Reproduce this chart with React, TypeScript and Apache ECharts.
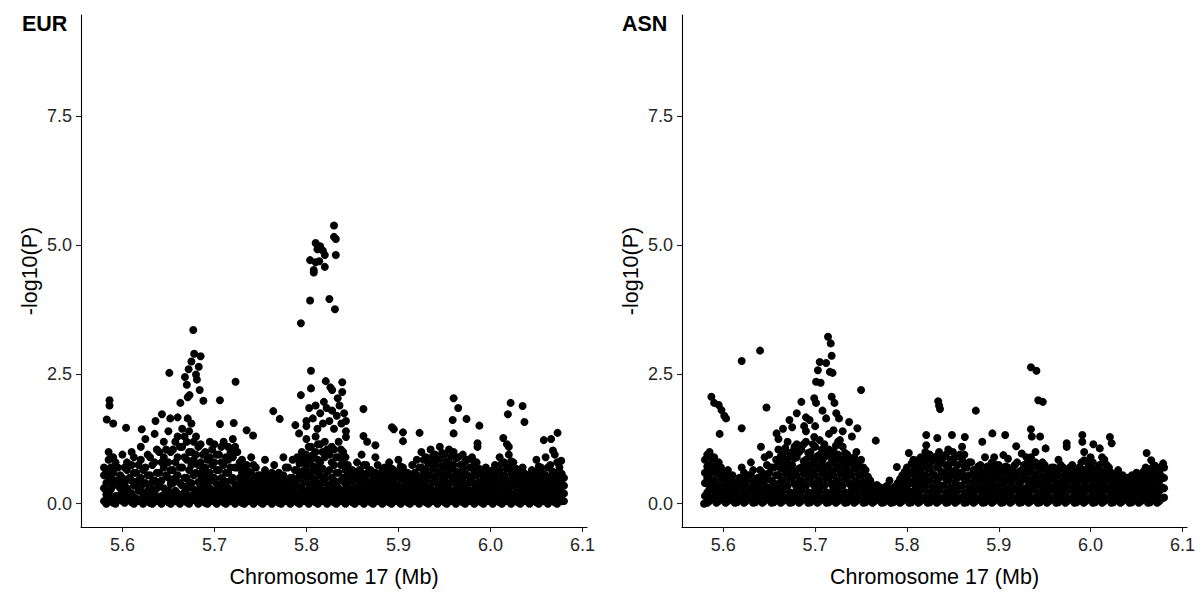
import React, { useEffect, useRef } from "react";
import * as echarts from "echarts";

// Panel labels and axis text
const panelLabels = ["EUR", "ASN"];
const xTitle = "Chromosome 17 (Mb)";
const yTitle = "-log10(P)";
const xTicks = [5.6, 5.7, 5.8, 5.9, 6.0, 6.1];
const yTicks = [0, 2.5, 5.0, 7.5];
const xRange = [5.555, 6.105];
const yRange = [-0.45, 9.45];

// EUR: dense band, each row = [position (Mb), -log10(P) values...]
const eurBand: number[][] = [
  [5.580, 0.05, 0.3, 0.55, 0.7],
  [5.585, 0.1, 0.2, 0.45, 0.85, 1.0],
  [5.590, 0.02, 0.35, 0.6, 0.9],
  [5.595, 0.15, 0.4, 0.7],
  [5.600, 0.05, 0.25, 0.5, 0.95],
  [5.605, 0.1, 0.3, 0.65, 0.8],
  [5.610, 0.03, 0.2, 0.45, 0.75, 1.0],
  [5.615, 0.1, 0.35, 0.6],
  [5.620, 0.05, 0.25, 0.5, 0.85, 1.1],
  [5.625, 0.15, 0.4, 0.7, 1.25],
  [5.630, 0.02, 0.3, 0.55, 0.9],
  [5.635, 0.1, 0.2, 0.45, 0.8, 1.35],
  [5.640, 0.05, 0.35, 0.6, 1.0],
  [5.645, 0.15, 0.3, 0.7, 0.9, 1.2],
  [5.650, 0.03, 0.25, 0.5, 0.8, 1.4],
  [5.655, 0.1, 0.4, 0.65, 1.05],
  [5.660, 0.05, 0.2, 0.55, 0.9, 1.3],
  [5.665, 0.12, 0.35, 0.7, 1.1, 1.45],
  [5.670, 0.03, 0.28, 0.5, 0.85, 1.2],
  [5.675, 0.15, 0.4, 0.75, 1.0, 1.55],
  [5.680, 0.05, 0.25, 0.6, 0.95, 1.3],
  [5.685, 0.1, 0.35, 0.55, 0.8, 1.15],
  [5.690, 0.02, 0.2, 0.45, 0.7, 1.0],
  [5.695, 0.12, 0.3, 0.6, 0.9, 1.2],
  [5.700, 0.05, 0.25, 0.5, 0.8, 1.15],
  [5.705, 0.1, 0.35, 0.65, 0.95],
  [5.710, 0.03, 0.2, 0.45, 0.75, 1.2],
  [5.715, 0.15, 0.3, 0.6, 0.85, 1.1],
  [5.720, 0.05, 0.25, 0.5, 0.9, 1.25],
  [5.725, 0.1, 0.35, 0.7, 1.0],
  [5.730, 0.02, 0.2, 0.4, 0.6, 0.85],
  [5.735, 0.1, 0.3, 0.5, 0.75],
  [5.740, 0.05, 0.2, 0.35, 0.6, 0.9],
  [5.745, 0.12, 0.28, 0.45, 0.7],
  [5.750, 0.03, 0.18, 0.35, 0.55],
  [5.755, 0.1, 0.25, 0.4, 0.65, 0.85],
  [5.760, 0.05, 0.2, 0.35, 0.5],
  [5.765, 0.12, 0.3, 0.45, 0.75],
  [5.770, 0.02, 0.18, 0.35, 0.6],
  [5.775, 0.1, 0.25, 0.4, 0.55, 0.9],
  [5.780, 0.05, 0.2, 0.38, 0.7],
  [5.785, 0.12, 0.3, 0.5, 0.85],
  [5.790, 0.03, 0.2, 0.45, 0.65, 0.9],
  [5.795, 0.1, 0.3, 0.55, 0.8, 1.0],
  [5.800, 0.05, 0.25, 0.5, 0.75, 0.95, 1.25],
  [5.805, 0.12, 0.35, 0.6, 0.85, 1.1],
  [5.810, 0.03, 0.2, 0.45, 0.7, 1.0, 1.3],
  [5.815, 0.1, 0.3, 0.55, 0.8, 1.15],
  [5.820, 0.05, 0.25, 0.5, 0.9, 1.2],
  [5.825, 0.12, 0.35, 0.65, 0.95],
  [5.830, 0.03, 0.2, 0.45, 0.75, 1.05],
  [5.835, 0.1, 0.3, 0.6, 0.9, 1.2],
  [5.840, 0.05, 0.25, 0.5, 0.8, 1.0],
  [5.845, 0.12, 0.35, 0.55, 0.75],
  [5.850, 0.03, 0.2, 0.45, 0.65],
  [5.855, 0.1, 0.3, 0.5, 0.8],
  [5.860, 0.05, 0.2, 0.4, 0.6, 0.95],
  [5.865, 0.12, 0.3, 0.55, 0.75],
  [5.870, 0.03, 0.2, 0.4, 0.65],
  [5.875, 0.1, 0.25, 0.45, 0.6, 0.9],
  [5.880, 0.05, 0.2, 0.35, 0.55],
  [5.885, 0.12, 0.3, 0.5, 0.7],
  [5.890, 0.03, 0.18, 0.35, 0.55, 0.8],
  [5.895, 0.1, 0.25, 0.45, 0.65],
  [5.900, 0.05, 0.2, 0.35, 0.6, 0.85],
  [5.905, 0.12, 0.3, 0.5, 0.7],
  [5.910, 0.03, 0.2, 0.4, 0.6],
  [5.915, 0.1, 0.25, 0.45, 0.75],
  [5.920, 0.05, 0.2, 0.35, 0.55, 0.85],
  [5.925, 0.12, 0.3, 0.5, 0.7, 1.0],
  [5.930, 0.03, 0.2, 0.45, 0.65, 0.9],
  [5.935, 0.1, 0.3, 0.55, 0.8, 1.05],
  [5.940, 0.05, 0.25, 0.5, 0.75, 0.95],
  [5.945, 0.12, 0.35, 0.6, 0.85, 1.1],
  [5.950, 0.03, 0.2, 0.45, 0.7, 0.95],
  [5.955, 0.1, 0.3, 0.55, 0.8, 1.05],
  [5.960, 0.05, 0.25, 0.5, 0.75, 1.0],
  [5.965, 0.12, 0.35, 0.6, 0.9],
  [5.970, 0.03, 0.2, 0.45, 0.7, 0.95],
  [5.975, 0.1, 0.3, 0.55, 0.85],
  [5.980, 0.05, 0.25, 0.5, 0.7, 0.9],
  [5.985, 0.12, 0.3, 0.55, 0.8],
  [5.990, 0.03, 0.2, 0.4, 0.6],
  [5.995, 0.1, 0.25, 0.45, 0.7],
  [6.000, 0.05, 0.2, 0.4, 0.55],
  [6.005, 0.12, 0.3, 0.5, 0.75],
  [6.010, 0.03, 0.2, 0.4, 0.65, 0.9],
  [6.015, 0.1, 0.3, 0.55, 0.8],
  [6.020, 0.05, 0.25, 0.45, 0.7, 0.95],
  [6.025, 0.12, 0.35, 0.55, 0.8],
  [6.030, 0.03, 0.2, 0.4, 0.6],
  [6.035, 0.1, 0.25, 0.45, 0.7],
  [6.040, 0.05, 0.2, 0.35, 0.55],
  [6.045, 0.12, 0.3, 0.5, 0.65],
  [6.050, 0.03, 0.2, 0.4, 0.6, 0.85],
  [6.055, 0.1, 0.25, 0.45, 0.7],
  [6.060, 0.05, 0.2, 0.35, 0.55, 0.9],
  [6.065, 0.12, 0.3, 0.5, 0.75],
  [6.070, 0.03, 0.2, 0.4, 0.6, 0.95],
  [6.075, 0.1, 0.25, 0.45, 0.7],
  [6.080, 0.05, 0.2, 0.35, 0.5],
];

// EUR: in-between SNPs filling the band
const eurFill: number[][] = [
  [5.5825, 0.0, 0.18, 0.4, 0.6],
  [5.5875, 0.08, 0.28, 0.5, 0.7],
  [5.5925, 0.0, 0.15, 0.45, 0.8],
  [5.5975, 0.08, 0.3, 0.55],
  [5.6025, 0.02, 0.15, 0.4, 0.7],
  [5.6075, 0.08, 0.22, 0.5],
  [5.6125, 0.0, 0.12, 0.35, 0.6, 0.9],
  [5.6175, 0.05, 0.25, 0.45, 0.75],
  [5.6225, 0.0, 0.15, 0.38, 0.65],
  [5.6275, 0.08, 0.25, 0.55, 0.95],
  [5.6325, 0.0, 0.15, 0.42, 0.75],
  [5.6375, 0.05, 0.3, 0.6, 1.05],
  [5.6425, 0.0, 0.15, 0.45, 0.8],
  [5.6475, 0.08, 0.22, 0.55, 1.05],
  [5.6525, 0.0, 0.15, 0.38, 0.65, 1.0],
  [5.6575, 0.05, 0.25, 0.5, 0.8, 1.2],
  [5.6625, 0.0, 0.12, 0.4, 0.7, 1.1],
  [5.6675, 0.05, 0.22, 0.5, 0.9, 1.3],
  [5.6725, 0.0, 0.15, 0.4, 0.65, 1.0, 1.4],
  [5.6775, 0.08, 0.28, 0.55, 0.85, 1.2],
  [5.6825, 0.0, 0.15, 0.42, 0.75, 1.1],
  [5.6875, 0.05, 0.25, 0.45, 0.65, 0.95],
  [5.6925, 0.0, 0.12, 0.35, 0.55, 0.85],
  [5.6975, 0.05, 0.22, 0.45, 0.75, 1.05],
  [5.7025, 0.0, 0.15, 0.38, 0.65, 0.95],
  [5.7075, 0.05, 0.25, 0.5, 0.8, 1.1],
  [5.7125, 0.0, 0.12, 0.35, 0.6, 0.9],
  [5.7175, 0.05, 0.22, 0.45, 0.7, 1.0],
  [5.7225, 0.0, 0.15, 0.38, 0.7, 1.1],
  [5.7275, 0.05, 0.25, 0.5, 0.8],
  [5.7325, 0.0, 0.12, 0.3, 0.5, 0.7],
  [5.7375, 0.05, 0.2, 0.4, 0.62],
  [5.7425, 0.0, 0.12, 0.28, 0.48, 0.75],
  [5.7475, 0.05, 0.2, 0.38, 0.55],
  [5.7525, 0.0, 0.1, 0.26, 0.45],
  [5.7575, 0.05, 0.18, 0.32, 0.55],
  [5.7625, 0.0, 0.12, 0.28, 0.42, 0.6],
  [5.7675, 0.05, 0.2, 0.38, 0.55],
  [5.7725, 0.0, 0.1, 0.26, 0.45],
  [5.7775, 0.05, 0.18, 0.32, 0.48, 0.7],
  [5.7825, 0.0, 0.12, 0.28, 0.5],
  [5.7875, 0.05, 0.2, 0.4, 0.65],
  [5.7925, 0.0, 0.12, 0.32, 0.55, 0.78],
  [5.7975, 0.05, 0.2, 0.42, 0.65, 0.9],
  [5.8025, 0.0, 0.15, 0.38, 0.62, 0.85, 1.1],
  [5.8075, 0.05, 0.25, 0.48, 0.72, 0.95],
  [5.8125, 0.0, 0.12, 0.35, 0.6, 0.85, 1.15],
  [5.8175, 0.05, 0.2, 0.42, 0.68, 1.0],
  [5.8225, 0.0, 0.15, 0.38, 0.62, 1.05],
  [5.8275, 0.05, 0.25, 0.5, 0.8, 1.1],
  [5.8325, 0.0, 0.12, 0.35, 0.6, 0.9],
  [5.8375, 0.05, 0.2, 0.45, 0.75, 1.05],
  [5.8425, 0.0, 0.15, 0.38, 0.65, 0.9],
  [5.8475, 0.05, 0.25, 0.45, 0.62],
  [5.8525, 0.0, 0.12, 0.32, 0.55],
  [5.8575, 0.05, 0.2, 0.4, 0.65],
  [5.8625, 0.0, 0.12, 0.3, 0.5, 0.75],
  [5.8675, 0.05, 0.2, 0.42, 0.62],
  [5.8725, 0.0, 0.12, 0.3, 0.52],
  [5.8775, 0.05, 0.18, 0.35, 0.5, 0.75],
  [5.8825, 0.0, 0.12, 0.28, 0.45, 0.65],
  [5.8875, 0.05, 0.2, 0.4, 0.6],
  [5.8925, 0.0, 0.1, 0.26, 0.45, 0.68],
  [5.8975, 0.05, 0.18, 0.35, 0.55],
  [5.9025, 0.0, 0.12, 0.28, 0.48, 0.72],
  [5.9075, 0.05, 0.2, 0.4, 0.6],
  [5.9125, 0.0, 0.12, 0.3, 0.5],
  [5.9175, 0.05, 0.18, 0.35, 0.6],
  [5.9225, 0.0, 0.12, 0.28, 0.45, 0.7],
  [5.9275, 0.05, 0.2, 0.4, 0.6, 0.85],
  [5.9325, 0.0, 0.12, 0.32, 0.55, 0.78],
  [5.9375, 0.05, 0.2, 0.42, 0.68, 0.92],
  [5.9425, 0.0, 0.15, 0.38, 0.62, 0.85],
  [5.9475, 0.05, 0.25, 0.48, 0.72, 0.98],
  [5.9525, 0.0, 0.12, 0.35, 0.58, 0.82],
  [5.9575, 0.05, 0.2, 0.42, 0.68, 0.92],
  [5.9625, 0.0, 0.15, 0.38, 0.62, 0.88],
  [5.9675, 0.05, 0.25, 0.48, 0.75],
  [5.9725, 0.0, 0.12, 0.35, 0.58, 0.82],
  [5.9775, 0.05, 0.2, 0.42, 0.7],
  [5.9825, 0.0, 0.15, 0.38, 0.6, 0.8],
  [5.9875, 0.05, 0.22, 0.42, 0.68],
  [5.9925, 0.0, 0.12, 0.3, 0.5],
  [5.9975, 0.05, 0.18, 0.35, 0.58],
  [6.0025, 0.0, 0.12, 0.3, 0.48, 0.65],
  [6.0075, 0.05, 0.2, 0.4, 0.62],
  [6.0125, 0.0, 0.12, 0.32, 0.52, 0.78],
  [6.0175, 0.05, 0.2, 0.42, 0.68],
  [6.0225, 0.0, 0.15, 0.35, 0.58, 0.82],
  [6.0275, 0.05, 0.22, 0.45, 0.68],
  [6.0325, 0.0, 0.12, 0.3, 0.5],
  [6.0375, 0.05, 0.18, 0.35, 0.58],
  [6.0425, 0.0, 0.12, 0.28, 0.45],
  [6.0475, 0.05, 0.2, 0.4, 0.55],
  [6.0525, 0.0, 0.12, 0.3, 0.5, 0.72],
  [6.0575, 0.05, 0.18, 0.35, 0.58],
  [6.0625, 0.0, 0.12, 0.28, 0.45, 0.7],
  [6.0675, 0.05, 0.2, 0.4, 0.62],
  [6.0725, 0.0, 0.12, 0.3, 0.5, 0.8],
  [6.0775, 0.05, 0.18, 0.35, 0.58],
];

// EUR: scattered SNPs above the band [position, -log10(P)]
const eurPeaks: number[][] = [
  [5.583, 1.63], [5.59, 1.55], [5.586, 2.0], [5.586, 1.9], [5.604, 1.47], [5.621, 1.44],
  [5.643, 1.73], [5.636, 1.6], [5.651, 2.53], [5.652, 1.65], [5.66, 1.67], [5.671, 1.65],
  [5.663, 1.95], [5.671, 2.06], [5.688, 1.99], [5.706, 2.0], [5.706, 1.54], [5.721, 1.56],
  [5.723, 2.36], [5.764, 1.79], [5.771, 1.64], [5.677, 3.36], [5.668, 2.45], [5.672, 2.6],
  [5.675, 2.75], [5.678, 2.9], [5.68, 2.5], [5.683, 2.65], [5.685, 2.85], [5.67, 2.3],
  [5.681, 2.4], [5.673, 2.1], [5.684, 2.2], [5.735, 1.42], [5.742, 1.32], [5.788, 1.52],
  [5.792, 1.36],
  [5.83, 5.38], [5.83, 5.16], [5.832, 5.12], [5.81, 5.04], [5.815, 4.98], [5.812, 4.92],
  [5.818, 4.89], [5.82, 4.81], [5.832, 4.81], [5.804, 4.71], [5.81, 4.67], [5.814, 4.69],
  [5.808, 4.52], [5.808, 4.47], [5.82, 4.58], [5.804, 3.93], [5.825, 3.96], [5.831, 3.76],
  [5.794, 3.49],
  [5.805, 2.57], [5.805, 2.23], [5.794, 2.1], [5.821, 2.37], [5.826, 2.25], [5.839, 2.35],
  [5.839, 2.16], [5.834, 2.04], [5.819, 1.97], [5.828, 2.2],
  [5.8, 1.5], [5.803, 1.85], [5.807, 1.65], [5.81, 1.9], [5.812, 1.45], [5.815, 1.75],
  [5.818, 1.55], [5.822, 1.85], [5.825, 1.6], [5.828, 1.8], [5.83, 1.45], [5.833, 1.7],
  [5.836, 1.9], [5.838, 1.55], [5.841, 1.75], [5.843, 1.6], [5.843, 1.4], [5.843, 1.29],
  [5.8, 1.6],
  [5.862, 1.83], [5.893, 1.48], [5.895, 1.44], [5.905, 1.38], [5.905, 1.21], [5.923, 1.37],
  [5.862, 1.31], [5.866, 1.2], [5.875, 1.13],
  [5.96, 2.04], [5.965, 1.85], [5.974, 1.64], [5.959, 1.62], [5.988, 1.51], [5.96, 1.36],
  [5.986, 1.17], [5.986, 1.1],
  [6.022, 1.95], [6.035, 1.89], [6.019, 1.73], [6.037, 1.58], [6.014, 1.27], [6.018, 1.15],
  [6.02, 1.1], [6.058, 1.23], [6.066, 1.25], [6.073, 1.37], [6.068, 1.03], [6.077, 0.83],
];

// ASN: dense band, each row = [position (Mb), -log10(P) values...]
const asnBand: number[][] = [
  [5.580, 0.15, 0.4, 0.6, 0.85],
  [5.585, 0.05, 0.3, 0.5, 0.75, 1.0],
  [5.590, 0.1, 0.25, 0.45, 0.7, 0.9],
  [5.595, 0.05, 0.35, 0.6, 0.8],
  [5.600, 0.1, 0.3, 0.5],
  [5.605, 0.05, 0.2, 0.4, 0.65],
  [5.610, 0.12, 0.3, 0.55],
  [5.615, 0.03, 0.2, 0.4],
  [5.620, 0.1, 0.3, 0.5, 0.7],
  [5.625, 0.05, 0.2, 0.45],
  [5.630, 0.12, 0.3, 0.55, 0.8],
  [5.635, 0.03, 0.2, 0.4],
  [5.640, 0.1, 0.3, 0.5, 0.65],
  [5.645, 0.05, 0.2, 0.45, 0.9],
  [5.650, 0.12, 0.3, 0.6, 0.95],
  [5.655, 0.03, 0.2, 0.4, 0.7],
  [5.660, 0.1, 0.3, 0.55, 0.8, 1.05],
  [5.665, 0.05, 0.25, 0.45, 0.7, 0.95],
  [5.670, 0.12, 0.35, 0.6, 0.85, 1.2],
  [5.675, 0.03, 0.2, 0.5, 0.75, 1.0],
  [5.680, 0.1, 0.3, 0.55, 0.9, 1.15],
  [5.685, 0.05, 0.25, 0.45, 0.7, 1.05],
  [5.690, 0.12, 0.35, 0.6, 0.85, 1.2, 1.4],
  [5.695, 0.03, 0.2, 0.5, 0.75, 1.0],
  [5.700, 0.1, 0.3, 0.55, 0.8, 1.1, 1.5],
  [5.705, 0.05, 0.25, 0.45, 0.7, 0.95],
  [5.710, 0.12, 0.35, 0.6, 0.9, 1.15],
  [5.715, 0.03, 0.2, 0.5, 0.75, 1.05, 1.35],
  [5.720, 0.1, 0.3, 0.55, 0.8, 1.0],
  [5.725, 0.05, 0.25, 0.45, 0.7, 0.95, 1.2],
  [5.730, 0.12, 0.35, 0.6, 0.85, 1.1],
  [5.735, 0.03, 0.2, 0.5, 0.75, 0.95],
  [5.740, 0.1, 0.3, 0.55, 0.8],
  [5.745, 0.05, 0.25, 0.45, 0.7, 1.0],
  [5.750, 0.12, 0.3, 0.55, 0.85],
  [5.755, 0.03, 0.2, 0.4, 0.65],
  [5.760, 0.1, 0.25, 0.45],
  [5.765, 0.05, 0.2, 0.35],
  [5.770, 0.1, 0.25, 0.32],
  [5.775, 0.03, 0.18, 0.3],
  [5.780, 0.08, 0.22, 0.3],
  [5.785, 0.03, 0.15, 0.3],
  [5.790, 0.1, 0.25, 0.4],
  [5.795, 0.05, 0.2, 0.35, 0.55],
  [5.800, 0.12, 0.3, 0.5, 0.7],
  [5.805, 0.03, 0.2, 0.4, 0.6],
  [5.810, 0.1, 0.3, 0.5, 0.75],
  [5.815, 0.05, 0.25, 0.45, 0.65, 0.9],
  [5.820, 0.12, 0.35, 0.55, 0.8, 1.0],
  [5.825, 0.03, 0.2, 0.45, 0.7, 0.95],
  [5.830, 0.1, 0.3, 0.55, 0.85],
  [5.835, 0.05, 0.25, 0.5, 0.75, 1.0],
  [5.840, 0.12, 0.35, 0.6, 0.9],
  [5.845, 0.03, 0.2, 0.45, 0.7, 1.05],
  [5.850, 0.1, 0.3, 0.55, 0.8, 1.0],
  [5.855, 0.05, 0.25, 0.5, 0.75],
  [5.860, 0.12, 0.35, 0.6, 0.85, 1.1],
  [5.865, 0.03, 0.2, 0.45, 0.7],
  [5.870, 0.1, 0.3, 0.55, 0.8],
  [5.875, 0.05, 0.25, 0.45, 0.65],
  [5.880, 0.12, 0.3, 0.5, 0.75],
  [5.885, 0.03, 0.2, 0.4, 0.6, 0.9],
  [5.890, 0.1, 0.3, 0.5, 0.7],
  [5.895, 0.05, 0.2, 0.45, 0.65, 0.9],
  [5.900, 0.12, 0.3, 0.5, 0.75],
  [5.905, 0.03, 0.2, 0.4, 0.6],
  [5.910, 0.1, 0.3, 0.55, 0.7],
  [5.915, 0.05, 0.25, 0.45, 0.65],
  [5.920, 0.12, 0.3, 0.5, 0.8],
  [5.925, 0.03, 0.2, 0.45, 0.65],
  [5.930, 0.1, 0.3, 0.55, 0.75],
  [5.935, 0.05, 0.25, 0.45, 0.7, 0.9],
  [5.940, 0.12, 0.35, 0.55, 0.8, 1.0],
  [5.945, 0.03, 0.2, 0.4, 0.65],
  [5.950, 0.1, 0.3, 0.5, 0.75],
  [5.955, 0.05, 0.25, 0.45, 0.6],
  [5.960, 0.12, 0.3, 0.5, 0.7],
  [5.965, 0.03, 0.2, 0.4, 0.65, 0.85],
  [5.970, 0.1, 0.3, 0.5, 0.7],
  [5.975, 0.05, 0.25, 0.45, 0.6],
  [5.980, 0.12, 0.3, 0.5, 0.75],
  [5.985, 0.03, 0.2, 0.4, 0.6],
  [5.990, 0.1, 0.3, 0.55, 0.8],
  [5.995, 0.05, 0.25, 0.45, 0.65],
  [6.000, 0.12, 0.3, 0.5, 0.7, 0.9],
  [6.005, 0.03, 0.2, 0.4, 0.6],
  [6.010, 0.1, 0.3, 0.5, 0.75],
  [6.015, 0.05, 0.25, 0.45, 0.6, 0.85],
  [6.020, 0.12, 0.3, 0.5, 0.7],
  [6.025, 0.03, 0.2, 0.4, 0.55],
  [6.030, 0.1, 0.3, 0.45, 0.65],
  [6.035, 0.05, 0.2, 0.4, 0.55],
  [6.040, 0.12, 0.3, 0.5],
  [6.045, 0.03, 0.2, 0.35, 0.55],
  [6.050, 0.1, 0.25, 0.45, 0.6],
  [6.055, 0.05, 0.2, 0.4, 0.55],
  [6.060, 0.12, 0.3, 0.5, 0.7],
  [6.065, 0.03, 0.2, 0.4, 0.6],
  [6.070, 0.1, 0.3, 0.5, 0.65],
  [6.075, 0.05, 0.25, 0.45, 0.6],
  [6.080, 0.12, 0.3, 0.5, 0.7],
];

// ASN: in-between SNPs filling the band
const asnFill: number[][] = [
  [5.5825, 0.02, 0.22, 0.5, 0.72, 0.95],
  [5.5875, 0.12, 0.4, 0.62, 0.88],
  [5.5925, 0.02, 0.18, 0.35, 0.58, 0.8],
  [5.5975, 0.12, 0.25, 0.48, 0.7],
  [5.6025, 0.02, 0.2, 0.4, 0.6],
  [5.6075, 0.12, 0.3, 0.5],
  [5.6125, 0.02, 0.2, 0.42],
  [5.6175, 0.1, 0.3, 0.5],
  [5.6225, 0.02, 0.18, 0.4, 0.6],
  [5.6275, 0.1, 0.32, 0.55],
  [5.6325, 0.02, 0.2, 0.42, 0.65],
  [5.6375, 0.1, 0.3, 0.5],
  [5.6425, 0.02, 0.2, 0.4, 0.6],
  [5.6475, 0.1, 0.32, 0.55, 0.75],
  [5.6525, 0.02, 0.2, 0.45, 0.7],
  [5.6575, 0.1, 0.3, 0.55, 0.85],
  [5.6625, 0.02, 0.2, 0.42, 0.68, 0.92],
  [5.6675, 0.12, 0.35, 0.58, 0.82, 1.08],
  [5.6725, 0.02, 0.22, 0.48, 0.72, 0.98],
  [5.6775, 0.12, 0.38, 0.62, 0.88, 1.1],
  [5.6825, 0.02, 0.2, 0.42, 0.68, 1.0],
  [5.6875, 0.12, 0.35, 0.58, 0.82, 1.15],
  [5.6925, 0.02, 0.22, 0.48, 0.72, 0.98],
  [5.6975, 0.12, 0.38, 0.62, 0.88, 1.15],
  [5.7025, 0.02, 0.2, 0.42, 0.68, 0.92],
  [5.7075, 0.12, 0.35, 0.58, 0.82, 1.05],
  [5.7125, 0.02, 0.22, 0.48, 0.72, 0.98],
  [5.7175, 0.12, 0.38, 0.62, 0.88],
  [5.7225, 0.02, 0.2, 0.42, 0.68, 0.9, 1.12],
  [5.7275, 0.12, 0.35, 0.58, 0.82],
  [5.7325, 0.02, 0.22, 0.48, 0.72, 0.98],
  [5.7375, 0.12, 0.38, 0.62, 0.85],
  [5.7425, 0.02, 0.2, 0.42, 0.68, 0.9],
  [5.7475, 0.12, 0.35, 0.58, 0.8],
  [5.7525, 0.02, 0.2, 0.42, 0.7],
  [5.7575, 0.1, 0.3, 0.52],
  [5.7625, 0.02, 0.15, 0.35],
  [5.7675, 0.1, 0.28, 0.36],
  [5.7725, 0.02, 0.15, 0.3],
  [5.7775, 0.1, 0.22, 0.34],
  [5.7825, 0.02, 0.15, 0.3],
  [5.7875, 0.05, 0.2, 0.34],
  [5.7925, 0.02, 0.15, 0.3, 0.48],
  [5.7975, 0.1, 0.28, 0.45, 0.62],
  [5.8025, 0.02, 0.2, 0.4, 0.58],
  [5.8075, 0.1, 0.25, 0.45, 0.65],
  [5.8125, 0.02, 0.18, 0.38, 0.6, 0.85],
  [5.8175, 0.1, 0.3, 0.52, 0.75],
  [5.8225, 0.02, 0.22, 0.45, 0.68, 0.9],
  [5.8275, 0.1, 0.32, 0.58, 0.82],
  [5.8325, 0.02, 0.2, 0.42, 0.7, 0.92],
  [5.8375, 0.1, 0.35, 0.62, 0.85],
  [5.8425, 0.02, 0.22, 0.48, 0.75, 0.95],
  [5.8475, 0.1, 0.32, 0.58, 0.85],
  [5.8525, 0.02, 0.2, 0.42, 0.65, 0.9],
  [5.8575, 0.1, 0.35, 0.6, 0.95],
  [5.8625, 0.02, 0.22, 0.48, 0.72, 0.95],
  [5.8675, 0.1, 0.32, 0.55, 0.8],
  [5.8725, 0.02, 0.2, 0.42, 0.65],
  [5.8775, 0.1, 0.32, 0.55, 0.72],
  [5.8825, 0.02, 0.2, 0.4, 0.62],
  [5.8875, 0.1, 0.28, 0.48, 0.72],
  [5.8925, 0.02, 0.2, 0.4, 0.6, 0.8],
  [5.8975, 0.1, 0.32, 0.55, 0.75],
  [5.9025, 0.02, 0.2, 0.4, 0.62],
  [5.9075, 0.1, 0.28, 0.48, 0.72],
  [5.9125, 0.02, 0.2, 0.42, 0.6],
  [5.9175, 0.1, 0.32, 0.55, 0.75],
  [5.9225, 0.02, 0.2, 0.4, 0.62],
  [5.9275, 0.1, 0.3, 0.52, 0.75],
  [5.9325, 0.02, 0.2, 0.42, 0.65, 0.85],
  [5.9375, 0.1, 0.32, 0.58, 0.8],
  [5.9425, 0.02, 0.22, 0.45, 0.7],
  [5.9475, 0.1, 0.3, 0.52, 0.8],
  [5.9525, 0.02, 0.2, 0.4, 0.62],
  [5.9575, 0.1, 0.32, 0.52, 0.7],
  [5.9625, 0.02, 0.2, 0.4, 0.6],
  [5.9675, 0.1, 0.3, 0.52, 0.75],
  [5.9725, 0.02, 0.2, 0.4, 0.6],
  [5.9775, 0.1, 0.32, 0.55, 0.7],
  [5.9825, 0.02, 0.2, 0.4, 0.62],
  [5.9875, 0.1, 0.3, 0.5, 0.7],
  [5.9925, 0.02, 0.2, 0.42, 0.65],
  [5.9975, 0.1, 0.32, 0.55, 0.78],
  [6.0025, 0.02, 0.2, 0.42, 0.6, 0.8],
  [6.0075, 0.1, 0.3, 0.5, 0.68],
  [6.0125, 0.02, 0.2, 0.4, 0.62, 0.9],
  [6.0175, 0.1, 0.32, 0.55, 0.75],
  [6.0225, 0.02, 0.2, 0.4, 0.6],
  [6.0275, 0.1, 0.3, 0.48],
  [6.0325, 0.02, 0.2, 0.38, 0.55],
  [6.0375, 0.1, 0.3, 0.48],
  [6.0425, 0.02, 0.2, 0.4],
  [6.0475, 0.1, 0.28, 0.45],
  [6.0525, 0.02, 0.18, 0.35, 0.52],
  [6.0575, 0.1, 0.3, 0.48, 0.62],
  [6.0625, 0.02, 0.2, 0.4, 0.58],
  [6.0675, 0.1, 0.3, 0.5, 0.7],
  [6.0725, 0.02, 0.2, 0.42, 0.58],
  [6.0775, 0.1, 0.32, 0.52, 0.72],
];

// ASN: scattered SNPs above the band [position, -log10(P)]
const asnPeaks: number[][] = [
  [5.579, 0.0], [5.714, 3.23], [5.717, 3.1], [5.718, 2.86], [5.705, 2.74], [5.712, 2.72],
  [5.703, 2.58], [5.716, 2.55], [5.719, 2.53], [5.701, 2.36], [5.706, 2.34], [5.64, 2.96],
  [5.62, 2.76], [5.75, 2.2], [5.587, 2.07], [5.59, 1.95], [5.595, 1.91], [5.598, 1.81],
  [5.601, 1.7], [5.603, 1.65], [5.596, 1.35], [5.62, 1.46], [5.647, 1.86], [5.641, 1.1],
  [5.685, 1.97], [5.699, 2.04], [5.701, 1.95], [5.718, 2.07], [5.721, 1.95], [5.672, 1.62],
  [5.675, 1.48], [5.658, 1.36], [5.69, 1.67], [5.694, 1.62], [5.712, 1.65], [5.726, 1.65],
  [5.737, 1.58], [5.746, 1.46], [5.72, 1.42], [5.727, 1.23], [5.699, 1.29], [5.705, 1.23],
  [5.766, 1.22], [5.789, 0.71], [5.781, 0.45], [5.821, 1.33], [5.821, 1.13], [5.833, 1.27],
  [5.834, 1.98], [5.836, 1.83], [5.835, 1.9], [5.802, 0.98], [5.807, 0.85], [5.805, 0.78],
  [5.875, 1.8], [5.935, 2.64], [5.941, 2.57], [5.943, 2.0], [5.948, 1.97], [5.935, 1.44],
  [5.936, 1.3], [5.945, 1.3], [5.849, 1.33], [5.863, 1.29], [5.893, 1.36], [5.907, 1.33],
  [5.882, 1.2], [5.919, 1.11], [5.951, 1.07], [5.974, 1.17], [5.974, 1.1], [5.991, 1.33],
  [5.991, 1.2], [6.003, 1.15], [6.021, 1.29], [6.023, 1.17], [6.061, 0.98], [6.066, 0.84],
  [6.07, 0.74], [6.079, 0.78], [6.01, 1.07], [6.014, 0.85], [6.018, 0.71], [5.993, 1.0],
  [5.993, 0.84], [5.925, 0.97], [5.93, 0.9], [5.905, 0.94], [5.91, 0.87],
  [5.68, 1.75], [5.688, 1.5], [5.708, 1.8], [5.723, 1.75], [5.73, 1.4], [5.66, 1.25],
  [5.665, 1.45], [5.74, 1.3],
];

const FONT = "Liberation Sans, Arial, Helvetica, sans-serif";

function expand(bands: number[][][], peaks: number[][]): number[][] {
  const out: number[][] = [];
  bands.forEach((band) =>
    band.forEach((row) => {
      for (let i = 1; i < row.length; i++) out.push([row[0], row[i]]);
    })
  );
  peaks.forEach((p) => out.push([p[0], p[1]]));
  return out;
}

export default function App() {
  const ref = useRef<HTMLDivElement>(null);
  useEffect(() => {
    if (!ref.current) return;
    const chart = echarts.init(ref.current, null, { renderer: "svg" });
    const grids = [
      { left: 81, top: 15, width: 506, height: 512 },
      { left: 682, top: 15, width: 505, height: 512 },
    ];
    const xAxes = grids.map((_, i) => ({
      type: "value",
      gridIndex: i,
      min: xRange[0],
      max: xRange[1],
      name: xTitle,
      nameLocation: "middle",
      nameGap: 39,
      nameTextStyle: { fontFamily: FONT, fontSize: 21.5, color: "#000" },
      axisLine: { show: true, onZero: false, lineStyle: { color: "#000", width: 1.1 } },
      axisTick: { show: true, length: 5, customValues: xTicks, lineStyle: { color: "#222", width: 1.1 } },
      axisLabel: {
        customValues: xTicks,
        formatter: (v: number) => v.toFixed(1),
        fontFamily: FONT,
        fontSize: 18,
        color: "#262626",
        margin: 9,
      },
      splitLine: { show: false },
    }));
    const yAxes = grids.map((_, i) => ({
      type: "value",
      gridIndex: i,
      min: yRange[0],
      max: yRange[1],
      name: yTitle,
      nameLocation: "middle",
      nameGap: 40,
      nameTextStyle: { fontFamily: FONT, fontSize: 21.5, color: "#000" },
      axisLine: { show: true, onZero: false, lineStyle: { color: "#000", width: 1.1 } },
      axisTick: { show: true, length: 5, customValues: yTicks, lineStyle: { color: "#222", width: 1.1 } },
      axisLabel: {
        customValues: yTicks,
        formatter: (v: number) => v.toFixed(1),
        fontFamily: FONT,
        fontSize: 18,
        color: "#262626",
        margin: 9,
      },
      splitLine: { show: false },
    }));
    const dot = { color: "#000", opacity: 1 };
    chart.setOption({
      animation: false,
      backgroundColor: "#fff",
      title: [
        { text: panelLabels[0], left: 17, top: 8, textStyle: { fontFamily: FONT, fontSize: 21.5, fontWeight: "bold", color: "#000" } },
        { text: panelLabels[1], left: 617, top: 8, textStyle: { fontFamily: FONT, fontSize: 21.5, fontWeight: "bold", color: "#000" } },
      ],
      grid: grids,
      xAxis: xAxes,
      yAxis: yAxes,
      series: [
        {
          type: "scatter",
          xAxisIndex: 0,
          yAxisIndex: 0,
          symbol: "circle",
          symbolSize: 8,
          itemStyle: dot,
          data: expand([eurBand, eurFill], eurPeaks),
        },
        {
          type: "scatter",
          xAxisIndex: 1,
          yAxisIndex: 1,
          symbol: "circle",
          symbolSize: 8,
          itemStyle: dot,
          data: expand([asnBand, asnFill], asnPeaks),
        },
      ],
    });
    return () => chart.dispose();
  }, []);
  return (
    <div
      ref={ref}
      style={{ position: "fixed", left: 0, top: 0, width: 1203, height: 599, background: "#fff" }}
    />
  );
}
